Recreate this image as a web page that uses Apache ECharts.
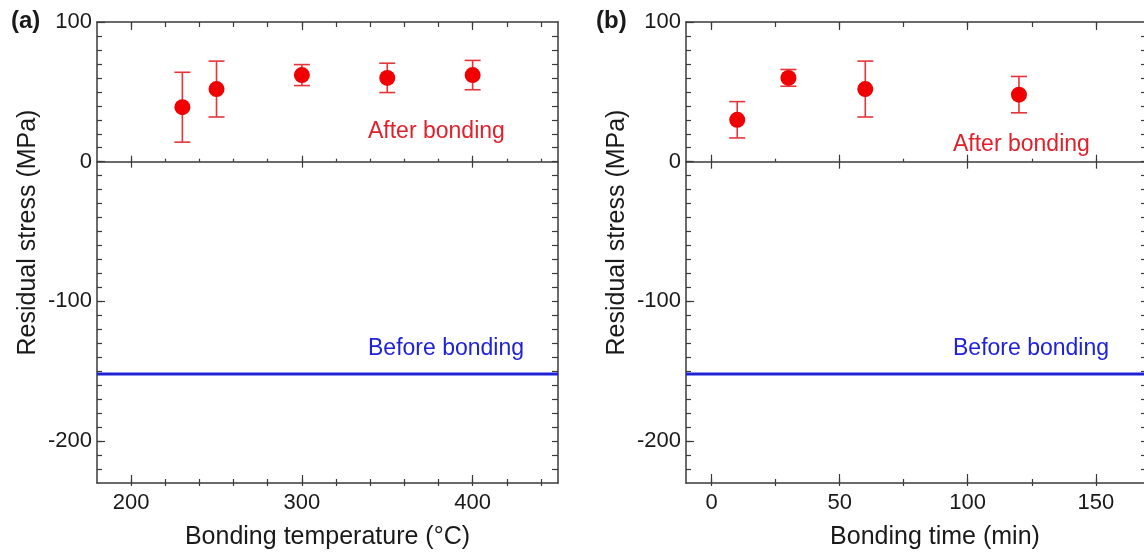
<!DOCTYPE html>
<html>
<head>
<meta charset="utf-8">
<title>Residual stress</title>
<script src="https://cdn.jsdelivr.net/npm/echarts@6/dist/echarts.min.js"></script>
<style>
  html, body { margin: 0; padding: 0; background: #ffffff; }
  #chart { width: 1144px; height: 554px; }
</style>
</head>
<body>
<div id="chart"></div>
<script>
// (a) residual stress against bonding temperature
const tempX = [230, 250, 300, 350, 400];
const tempStress = [39, 52, 62, 60, 62];
const tempErr = [25, 20, 7.5, 10.5, 10.5];

// (b) residual stress against bonding time
const timeX = [10, 30, 60, 120];
const timeStress = [30, 60, 52, 48];
const timeErr = [13, 6, 20, 13];

// stress level before bonding (same for both panels)
const beforeStress = -152;

// axis extents and tick values
const tempRange = [180, 450];
const timeRange = [-10, 170];
const stressRange = [-230, 100];
const tempTicks = [200, 300, 400];
const tempMinorTicks = [200, 220, 240, 260, 280, 300, 320, 340, 360, 380, 400, 420, 440];
const timeTicks = [0, 50, 100, 150];
const timeMinorTicks = [0, 25, 50, 75, 100, 125, 150];
const stressTicks = [100, 0, -100, -200];
const stressMinorTicks = [-220, -210, -200, -190, -180, -170, -160, -150, -140, -130, -120, -110,
  -100, -90, -80, -70, -60, -50, -40, -30, -20, -10, 0, 10, 20, 30, 40, 50, 60, 70, 80, 90];

const FONT = '"Liberation Sans", Arial, Helvetica, sans-serif';
const AXIS_COLOR = '#3a3a3a';
const TEXT_COLOR = '#1a1a1a';
const POINT_RED = '#f00000';
const BAR_RED = '#e5353a';
const TEXT_RED = '#e0202a';
const BLUE = '#1f22d6';

function tickAxis(base, values, len, inside, showLine) {
  return Object.assign({
    type: 'value',
    axisLine: { show: !!showLine, onZero: false, lineStyle: { color: AXIS_COLOR, width: 1.5 } },
    axisTick: { show: true, inside: inside, length: len, customValues: values,
      lineStyle: { color: AXIS_COLOR, width: 1.2 } },
    axisLabel: { show: false },
    splitLine: { show: false },
    minorTick: { show: false }
  }, base);
}

function buildXAxes(gridIndex, range, majors, minors, name, namePad, bottomMajorLen, midMajorLen) {
  const base = { gridIndex: gridIndex, min: range[0], max: range[1] };
  // bottom axis: line, major ticks and labels
  const bottom = tickAxis(Object.assign({ position: 'bottom' }, base), majors, bottomMajorLen, true, true);
  bottom.axisLabel = { show: true, customValues: majors, margin: 9,
    color: TEXT_COLOR, fontSize: 22, fontFamily: FONT };
  bottom.name = name;
  bottom.nameLocation = 'middle';
  bottom.nameGap = 42;
  bottom.nameMoveOverlap = false;
  bottom.nameTextStyle = { color: TEXT_COLOR, fontSize: 25, fontFamily: FONT, padding: namePad };
  // bottom minor ticks
  const bottomMinor = tickAxis(Object.assign({ position: 'bottom' }, base), minors, 4, true, false);
  // top frame with ticks
  const top = tickAxis(Object.assign({ position: 'top' }, base), minors, 5, true, true);
  const topMajor = tickAxis(Object.assign({ position: 'top' }, base), majors, 8, true, false);
  // zero line with ticks crossing it
  const zeroUp = tickAxis(Object.assign({ position: 'bottom' }, base), majors, midMajorLen, true, true);
  zeroUp.axisLine.onZero = true;
  const zeroDown = tickAxis(Object.assign({ position: 'bottom' }, base), majors, midMajorLen, false, false);
  zeroDown.axisLine.onZero = true;
  const zeroMinorUp = tickAxis(Object.assign({ position: 'bottom' }, base), minors, 3, true, false);
  zeroMinorUp.axisLine.onZero = true;
  const zeroMinorDown = tickAxis(Object.assign({ position: 'bottom' }, base), minors, 3, false, false);
  zeroMinorDown.axisLine.onZero = true;
  return [bottom, bottomMinor, top, topMajor, zeroUp, zeroDown, zeroMinorUp, zeroMinorDown];
}

function buildYAxes(gridIndex) {
  const base = { gridIndex: gridIndex, min: stressRange[0], max: stressRange[1] };
  const left = tickAxis(Object.assign({ position: 'left' }, base), stressTicks, 8, true, true);
  left.axisLabel = { show: true, customValues: stressTicks, margin: 5,
    color: TEXT_COLOR, fontSize: 22, fontFamily: FONT };
  left.name = 'Residual stress (MPa)';
  left.nameLocation = 'middle';
  left.nameGap = 56;
  left.nameMoveOverlap = false;
  left.nameTextStyle = { color: TEXT_COLOR, fontSize: 25, fontFamily: FONT, padding: [0, 0, 0, 40] };
  const leftMinor = tickAxis(Object.assign({ position: 'left' }, base), stressMinorTicks, 5, true, false);
  const right = tickAxis(Object.assign({ position: 'right' }, base), stressMinorTicks, 6, true, true);
  return [left, leftMinor, right];
}

function errorBars(xAxisIndex, yAxisIndex, xs, ys, errs) {
  return {
    type: 'custom',
    xAxisIndex: xAxisIndex,
    yAxisIndex: yAxisIndex,
    z: 3,
    data: xs.map((x, i) => [x, ys[i] - errs[i], ys[i] + errs[i]]),
    encode: { x: 0, y: [1, 2] },
    renderItem: function (params, api) {
      const lo = api.coord([api.value(0), api.value(1)]);
      const hi = api.coord([api.value(0), api.value(2)]);
      const hw = 8;
      const style = { stroke: BAR_RED, lineWidth: 1.6, fill: null };
      return {
        type: 'group',
        children: [
          { type: 'line', shape: { x1: hi[0], y1: hi[1], x2: lo[0], y2: lo[1] }, style: style },
          { type: 'line', shape: { x1: hi[0] - hw, y1: hi[1], x2: hi[0] + hw, y2: hi[1] }, style: style },
          { type: 'line', shape: { x1: lo[0] - hw, y1: lo[1], x2: lo[0] + hw, y2: lo[1] }, style: style }
        ]
      };
    }
  };
}

function points(xAxisIndex, yAxisIndex, xs, ys) {
  return {
    type: 'scatter',
    xAxisIndex: xAxisIndex,
    yAxisIndex: yAxisIndex,
    z: 4,
    symbol: 'circle',
    symbolSize: 16,
    itemStyle: { color: POINT_RED, opacity: 1 },
    data: xs.map((x, i) => [x, ys[i]])
  };
}

function beforeLine(xAxisIndex, yAxisIndex, range) {
  return {
    type: 'line',
    xAxisIndex: xAxisIndex,
    yAxisIndex: yAxisIndex,
    z: 2,
    symbol: 'none',
    silent: true,
    lineStyle: { color: BLUE, width: 3 },
    data: [[range[0], beforeStress], [range[1], beforeStress]]
  };
}

const xAxesA = buildXAxes(0, tempRange, tempTicks, tempMinorTicks,
  'Bonding temperature (\u00B0C)', [0, 0, 0, 0], 8, 6);
const xAxesB = buildXAxes(1, timeRange, timeTicks, timeMinorTicks,
  'Bonding time (min)', [0, 0, 0, 37], 9, 7);
const yAxesA = buildYAxes(0);
const yAxesB = buildYAxes(1);
const xB = xAxesA.length;
const yB = yAxesA.length;

function label(text, x, y, color, bold) {
  return {
    type: 'text', left: x, top: y,
    style: { text: text, fill: color, fontSize: bold ? 24 : 23, fontWeight: bold ? 'bold' : 'normal',
      fontFamily: FONT }
  };
}

const option = {
  backgroundColor: '#ffffff',
  animation: false,
  grid: [
    { left: 97, top: 22, width: 461, height: 461, outerBoundsMode: 'none' },
    { left: 686, top: 22, width: 461, height: 461, outerBoundsMode: 'none' }
  ],
  xAxis: xAxesA.concat(xAxesB),
  yAxis: yAxesA.concat(yAxesB),
  series: [
    beforeLine(0, 0, tempRange),
    errorBars(0, 0, tempX, tempStress, tempErr),
    points(0, 0, tempX, tempStress),
    beforeLine(xB, yB, timeRange),
    errorBars(xB, yB, timeX, timeStress, timeErr),
    points(xB, yB, timeX, timeStress)
  ],
  graphic: [
    label('(a)', 11, 9, TEXT_COLOR, true),
    label('(b)', 596, 9, TEXT_COLOR, true),
    label('After bonding', 368, 120, TEXT_RED, false),
    label('After bonding', 953, 133, TEXT_RED, false),
    label('Before bonding', 368, 337, BLUE, false),
    label('Before bonding', 953, 337, BLUE, false)
  ]
};

const chart = echarts.init(document.getElementById('chart'), null, { renderer: 'canvas' });
chart.setOption(option);
</script>
</body>
</html>
